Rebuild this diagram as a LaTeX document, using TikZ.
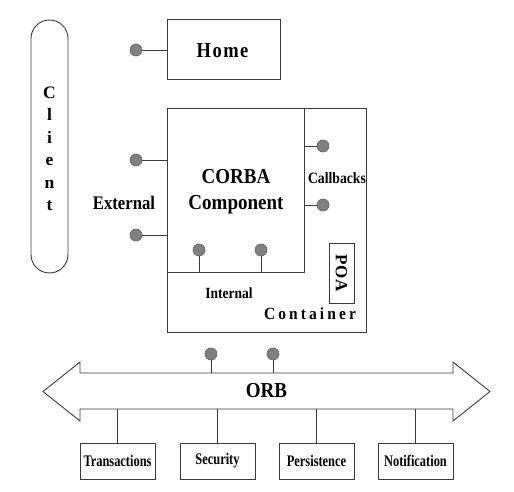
\documentclass[tikz,border=0pt]{standalone}
\usepackage{fontspec}
\setmainfont{Liberation Serif}
\usetikzlibrary{positioning}

\definecolor{linegray}{HTML}{3A3A3A}
\definecolor{pingray}{HTML}{808080}
\newcommand{\vstretch}[2]{\scalebox{1}[#1]{#2}}

\tikzset{
  box/.style={draw=linegray,line width=0.9pt,inner sep=0pt},
  pin/.style={circle,draw=linegray!80,fill=pingray,line width=0.6pt,minimum size=12pt,inner sep=0pt},
  wire/.style={draw=linegray,line width=0.9pt},
  lbl/.style={font=\bfseries\fontsize{#1}{#1}\selectfont,inner sep=0pt},
}

\begin{document}
\begin{tikzpicture}[x=1pt,y=-1pt]
\useasboundingbox (0,0) rectangle (514,492);

% client and home
\node[box,minimum width=37pt,minimum height=253pt,rounded corners=18.5pt] (client) at (49.5,146.5) {};
\node[lbl=17,align=center,font=\bfseries\fontsize{17.5}{22.5}\selectfont] at (49.5,149) {C\\l\\i\\e\\n\\t};
\node[box,minimum width=113pt,minimum height=60pt] (home) at (223.5,49) {};
\node[lbl=18.5] at (222.5,51) {\vstretch{1.15}{\addfontfeature{LetterSpace=8}Home}};
\node[pin] (homepin) at (136,50) {};
\draw[wire] (homepin) -- (homepin -| home.west);

% container with the component
\node[box,minimum width=199pt,minimum height=224pt] (cont) at (266.5,220) {};
\node[box,minimum width=137pt,minimum height=164pt] (comp) at (235.5,190) {};
\node[lbl=19,align=center,font=\bfseries\fontsize{19}{26}\selectfont] at (236,192) {\vstretch{1.12}{CORBA}\\\vstretch{1.12}{Component}};
\node[box,minimum width=25pt,minimum height=60pt] (poa) at (341.5,273) {};
\node[lbl=17,rotate=-90] at (poa) {\addfontfeature{LetterSpace=5}POA};
\node[lbl=15.5] at (310,314) {\vstretch{1.1}{\addfontfeature{LetterSpace=20}Container}};
\node[lbl=13.7] at (337,178) {\vstretch{1.15}{Callbacks}};
\node[lbl=16.7] at (124,203) {\vstretch{1.15}{External}};
\node[lbl=13.5] at (229,293) {\vstretch{1.15}{Internal}};

\node[pin] (ext1) at (136,160) {};
\node[pin] (ext2) at (136,235) {};
\node[pin] (cb1) at (323,146) {};
\node[pin] (cb2) at (323,205) {};
\node[pin] (int1) at (199,250) {};
\node[pin] (int2) at (261,250) {};
\foreach \p in {ext1,ext2}{\draw[wire] (\p) -- (\p -| comp.west);}
\foreach \p in {cb1,cb2}{\draw[wire] (\p) -- (\p -| comp.east);}
\foreach \p in {int1,int2}{\draw[wire] (\p) -- (\p |- comp.south);}

% orb
\node[minimum width=373pt,minimum height=36pt,inner sep=0pt] (orb) at (266.5,391) {};
\draw[wire] (80,373) -- (453,373) -- (453,362) -- (490,391.5) -- (453,421) -- (453,409)
  -- (80,409) -- (80,421) -- (43,391.5) -- (80,362) -- cycle;
\node[lbl=19] at (orb) {\vstretch{1.12}{ORB}};
\node[pin] (orb1) at (211,354) {};
\node[pin] (orb2) at (273,354) {};
\foreach \p in {orb1,orb2}{\draw[wire] (\p) -- (\p |- orb.north);}

% services
\foreach \n/\x/\t in {trans/117.5/Transactions,sec/217.5/Security,pers/316.5/Persistence,notif/415.5/Notification}{
  \node[box,minimum width=75pt,minimum height=36pt] (\n) at (\x,461) {};
  \node[lbl=12.4] at (\n) {\vstretch{1.3}{\t}};
  \draw[wire] (\n.north) -- (\n.north |- orb.south);
}
\end{tikzpicture}
\end{document}
